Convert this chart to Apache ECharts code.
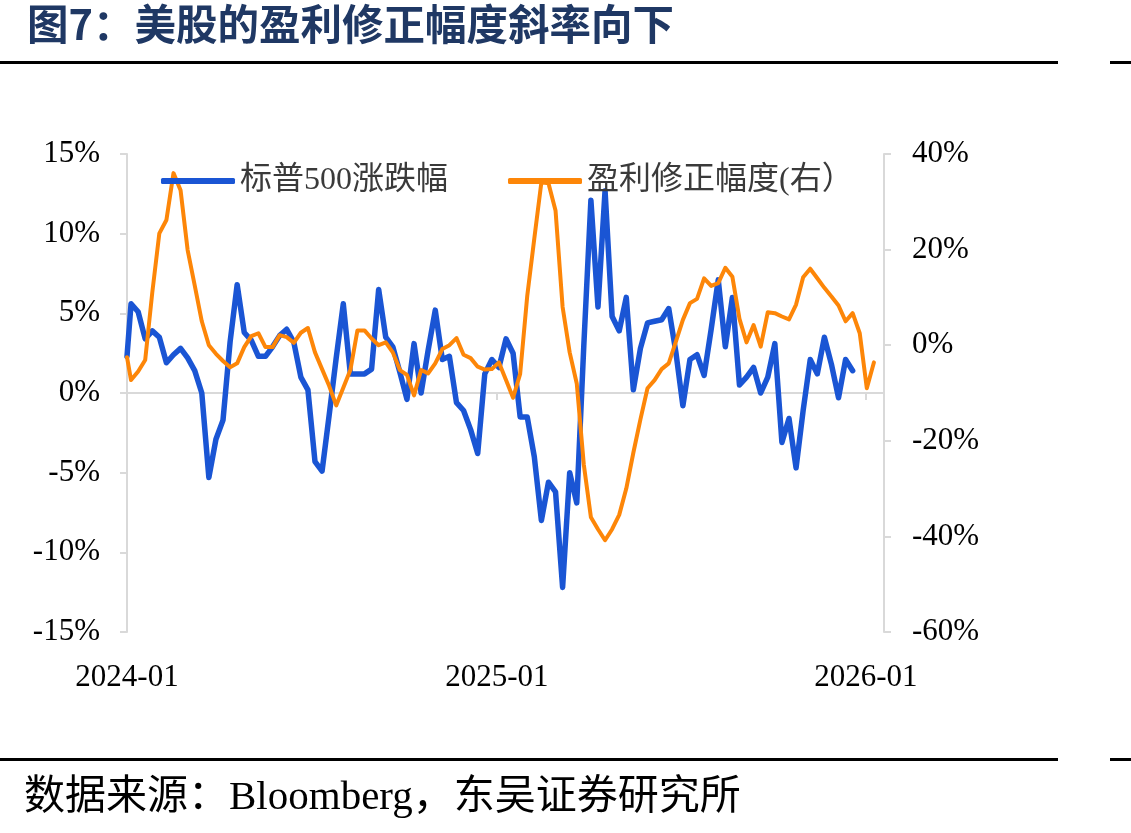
<!DOCTYPE html>
<html>
<head>
<meta charset="utf-8">
<script src="https://cdn.jsdelivr.net/npm/echarts@6/dist/echarts.min.js"></script>
<style>
  html, body { margin: 0; padding: 0; background: #fff; }
  #chart { width: 1131px; height: 833px; }
</style>
</head>
<body>
<div id="chart"></div>
<script>
// observation dates: first print on 2024-01-01, then weekly Fridays
const dayMs = 24 * 3600 * 1000;
const firstFriday = Date.UTC(2024, 0, 5);

// 标普500涨跌幅 (%), left axis
const spxChange = [
  2.3, 5.6, 5.1, 3.4, 3.9, 3.5, 1.9, 2.4, 2.8, 2.2, 1.4,
  0.0, -5.3, -2.9, -1.7, 3.2, 6.8, 3.8, 3.3, 2.3, 2.3,
  2.9, 3.6, 4.0, 3.2, 1.0, 0.2, -4.3, -4.9, -1.4, 2.2,
  5.6, 1.2, 1.2, 1.2, 1.5, 6.5, 3.5, 2.9, 1.3, -0.4,
  3.1, 0.0, 2.7, 5.2, 2.1, 2.3, -0.6, -1.1, -2.3, -3.8,
  1.2, 2.1, 1.6, 3.4, 2.5, -1.5, -1.5, -4.0, -8.0, -5.6,
  -6.2, -12.2, -5.0, -6.9, 3.0, 12.1, 5.4, 12.7, 4.8, 3.9,
  6.0, 0.2, 2.8, 4.4, 4.5, 4.6, 5.3, 2.6, -0.8, 2.1,
  2.4, 1.1, 4.0, 7.1, 2.9, 6.0, 0.5, 1.0, 1.6, 0.0,
  1.0, 3.1, -3.1, -1.6, -4.7, -1.1, 2.1, 1.2, 3.5, 1.8,
  -0.3, 2.1, 1.4
];

// 盈利修正幅度 (%), right axis
const revision = [
  -2.5, -7.3, -5.5, -3.1, 11.0, 23.4, 26.2, 36.0, 32.4, 19.9, 12.5,
  5.0, 0.0, -1.8, -3.3, -4.6, -3.8, -0.4, 1.9, 2.5, -0.4,
  -0.4, 2.1, 1.7, 0.5, 2.6, 3.6, -1.5, -5.0, -8.5, -12.6,
  -8.9, -5.2, 3.1, 3.1, 1.4, 0.0, 0.6, -1.5, -5.2, -6.2,
  -10.5, -5.2, -5.9, -3.8, -0.8, 0.0, 1.5, -2.0, -2.7, -4.5,
  -5.1, -5.0, -3.6, -7.3, -11.0, -6.0, 10.3, 22.3, 34.1, 33.9,
  28.2, 8.0, -1.5, -8.0, -25.0, -36.0, -38.5, -40.8, -38.5, -35.5,
  -30.0, -22.5, -15.5, -9.0, -7.3, -5.0, -3.8, 0.7, 5.3, 8.8,
  9.7, 14.0, 12.4, 13.0, 16.2, 14.3, 5.5, 0.6, 4.2, -0.3,
  6.9, 6.7, 6.0, 5.4, 8.5, 14.2, 16.0, 14.0, 12.0, 10.2,
  8.3, 5.0, 6.7, 2.5, -9.0, -3.6
];

const leftTicks = [-15, -10, -5, 0, 5, 10, 15];
const rightTicks = [-60, -40, -20, 0, 20, 40];
const xTickDates = [Date.UTC(2024, 0, 1), Date.UTC(2025, 0, 1), Date.UTC(2026, 0, 1)];
const xMin = Date.UTC(2024, 0, 1);
const xMax = Date.UTC(2026, 0, 19);

const obsDate = (i) => (i === 0 ? xMin : firstFriday + (i - 1) * 7 * dayMs);
const toPoints = (arr) => arr.map((v, i) => [obsDate(i), v]);
const ym = (v) => {
  const d = new Date(v);
  return d.getUTCFullYear() + '-' + String(d.getUTCMonth() + 1).padStart(2, '0');
};

const grey = '#d9d9d9';
const serif = '"Liberation Serif", "Noto Sans CJK SC"';

const chart = echarts.init(document.getElementById('chart'));
chart.setOption({
  animation: false,
  backgroundColor: '#fff',
  grid: { left: 127, right: 247, top: 154, bottom: 201 },
  legend: {
    left: 156,
    top: 160,
    icon: 'roundRect',
    itemWidth: 74,
    itemHeight: 6,
    itemGap: 60,
    textStyle: { fontSize: 32, fontFamily: serif, color: '#3a3a3a' },
    data: ['标普500涨跌幅', '盈利修正幅度(右）']
  },
  xAxis: [
    {
      type: 'value',
      min: xMin,
      max: xMax,
      axisLine: { onZero: true, onZeroAxisIndex: 0, lineStyle: { color: grey, width: 2 } },
      axisTick: { show: true, customValues: xTickDates.slice(1), length: 7, lineStyle: { color: grey, width: 2 } },
      axisLabel: { show: false },
      splitLine: { show: false }
    },
    {
      type: 'value',
      position: 'bottom',
      min: xMin,
      max: xMax,
      axisLine: { show: false, onZero: false },
      axisTick: { show: false },
      axisLabel: {
        customValues: xTickDates,
        formatter: ym,
        margin: 30,
        fontSize: 31,
        fontFamily: serif,
        color: '#000'
      },
      splitLine: { show: false }
    }
  ],
  yAxis: [
    {
      type: 'value',
      position: 'left',
      min: leftTicks[0],
      max: leftTicks[leftTicks.length - 1],
      interval: 5,
      axisLine: { show: true, lineStyle: { color: grey, width: 2 } },
      axisTick: { show: true, length: 7, lineStyle: { color: grey, width: 2 } },
      axisLabel: { formatter: '{value}%', margin: 27, fontSize: 31, fontFamily: serif, color: '#000' },
      splitLine: { show: false }
    },
    {
      type: 'value',
      position: 'right',
      min: rightTicks[0],
      max: rightTicks[rightTicks.length - 1],
      interval: 20,
      axisLine: { show: true, lineStyle: { color: grey, width: 2 } },
      axisTick: { show: true, length: 7, lineStyle: { color: grey, width: 2 } },
      axisLabel: { formatter: '{value}%', margin: 28, fontSize: 31, fontFamily: serif, color: '#000' },
      splitLine: { show: false }
    }
  ],
  series: [
    {
      name: '标普500涨跌幅',
      type: 'line',
      xAxisIndex: 0,
      yAxisIndex: 0,
      showSymbol: false,
      symbol: 'none',
      z: 2,
      lineStyle: { width: 5.5, color: '#1a55d4', join: 'round', cap: 'round' },
      itemStyle: { color: '#1a55d4' },
      data: toPoints(spxChange)
    },
    {
      name: '盈利修正幅度(右）',
      type: 'line',
      xAxisIndex: 0,
      yAxisIndex: 1,
      showSymbol: false,
      symbol: 'none',
      z: 3,
      lineStyle: { width: 4, color: '#fd8608', join: 'round', cap: 'round' },
      itemStyle: { color: '#fd8608' },
      data: toPoints(revision)
    }
  ],
  graphic: [
    {
      type: 'text', left: 27, top: 3,
      style: { text: '图7：美股的盈利修正幅度斜率向下', fontSize: 41.5, fontWeight: 'bold',
               fontFamily: '"Noto Sans CJK SC"', fill: '#1f3864' }
    },
    { type: 'rect', shape: { x: 0, y: 61, width: 1058, height: 3 }, style: { fill: '#000' } },
    { type: 'rect', shape: { x: 1110, y: 61, width: 21, height: 3 }, style: { fill: '#000' } },
    { type: 'rect', shape: { x: 0, y: 758, width: 1058, height: 3 }, style: { fill: '#000' } },
    { type: 'rect', shape: { x: 1110, y: 758, width: 21, height: 3 }, style: { fill: '#000' } },
    {
      type: 'text', left: 24, top: 778,
      style: { text: '数据来源：Bloomberg，东吴证券研究所', fontSize: 41,
               fontFamily: serif, fill: '#000' }
    }
  ]
});
</script>
</body>
</html>
